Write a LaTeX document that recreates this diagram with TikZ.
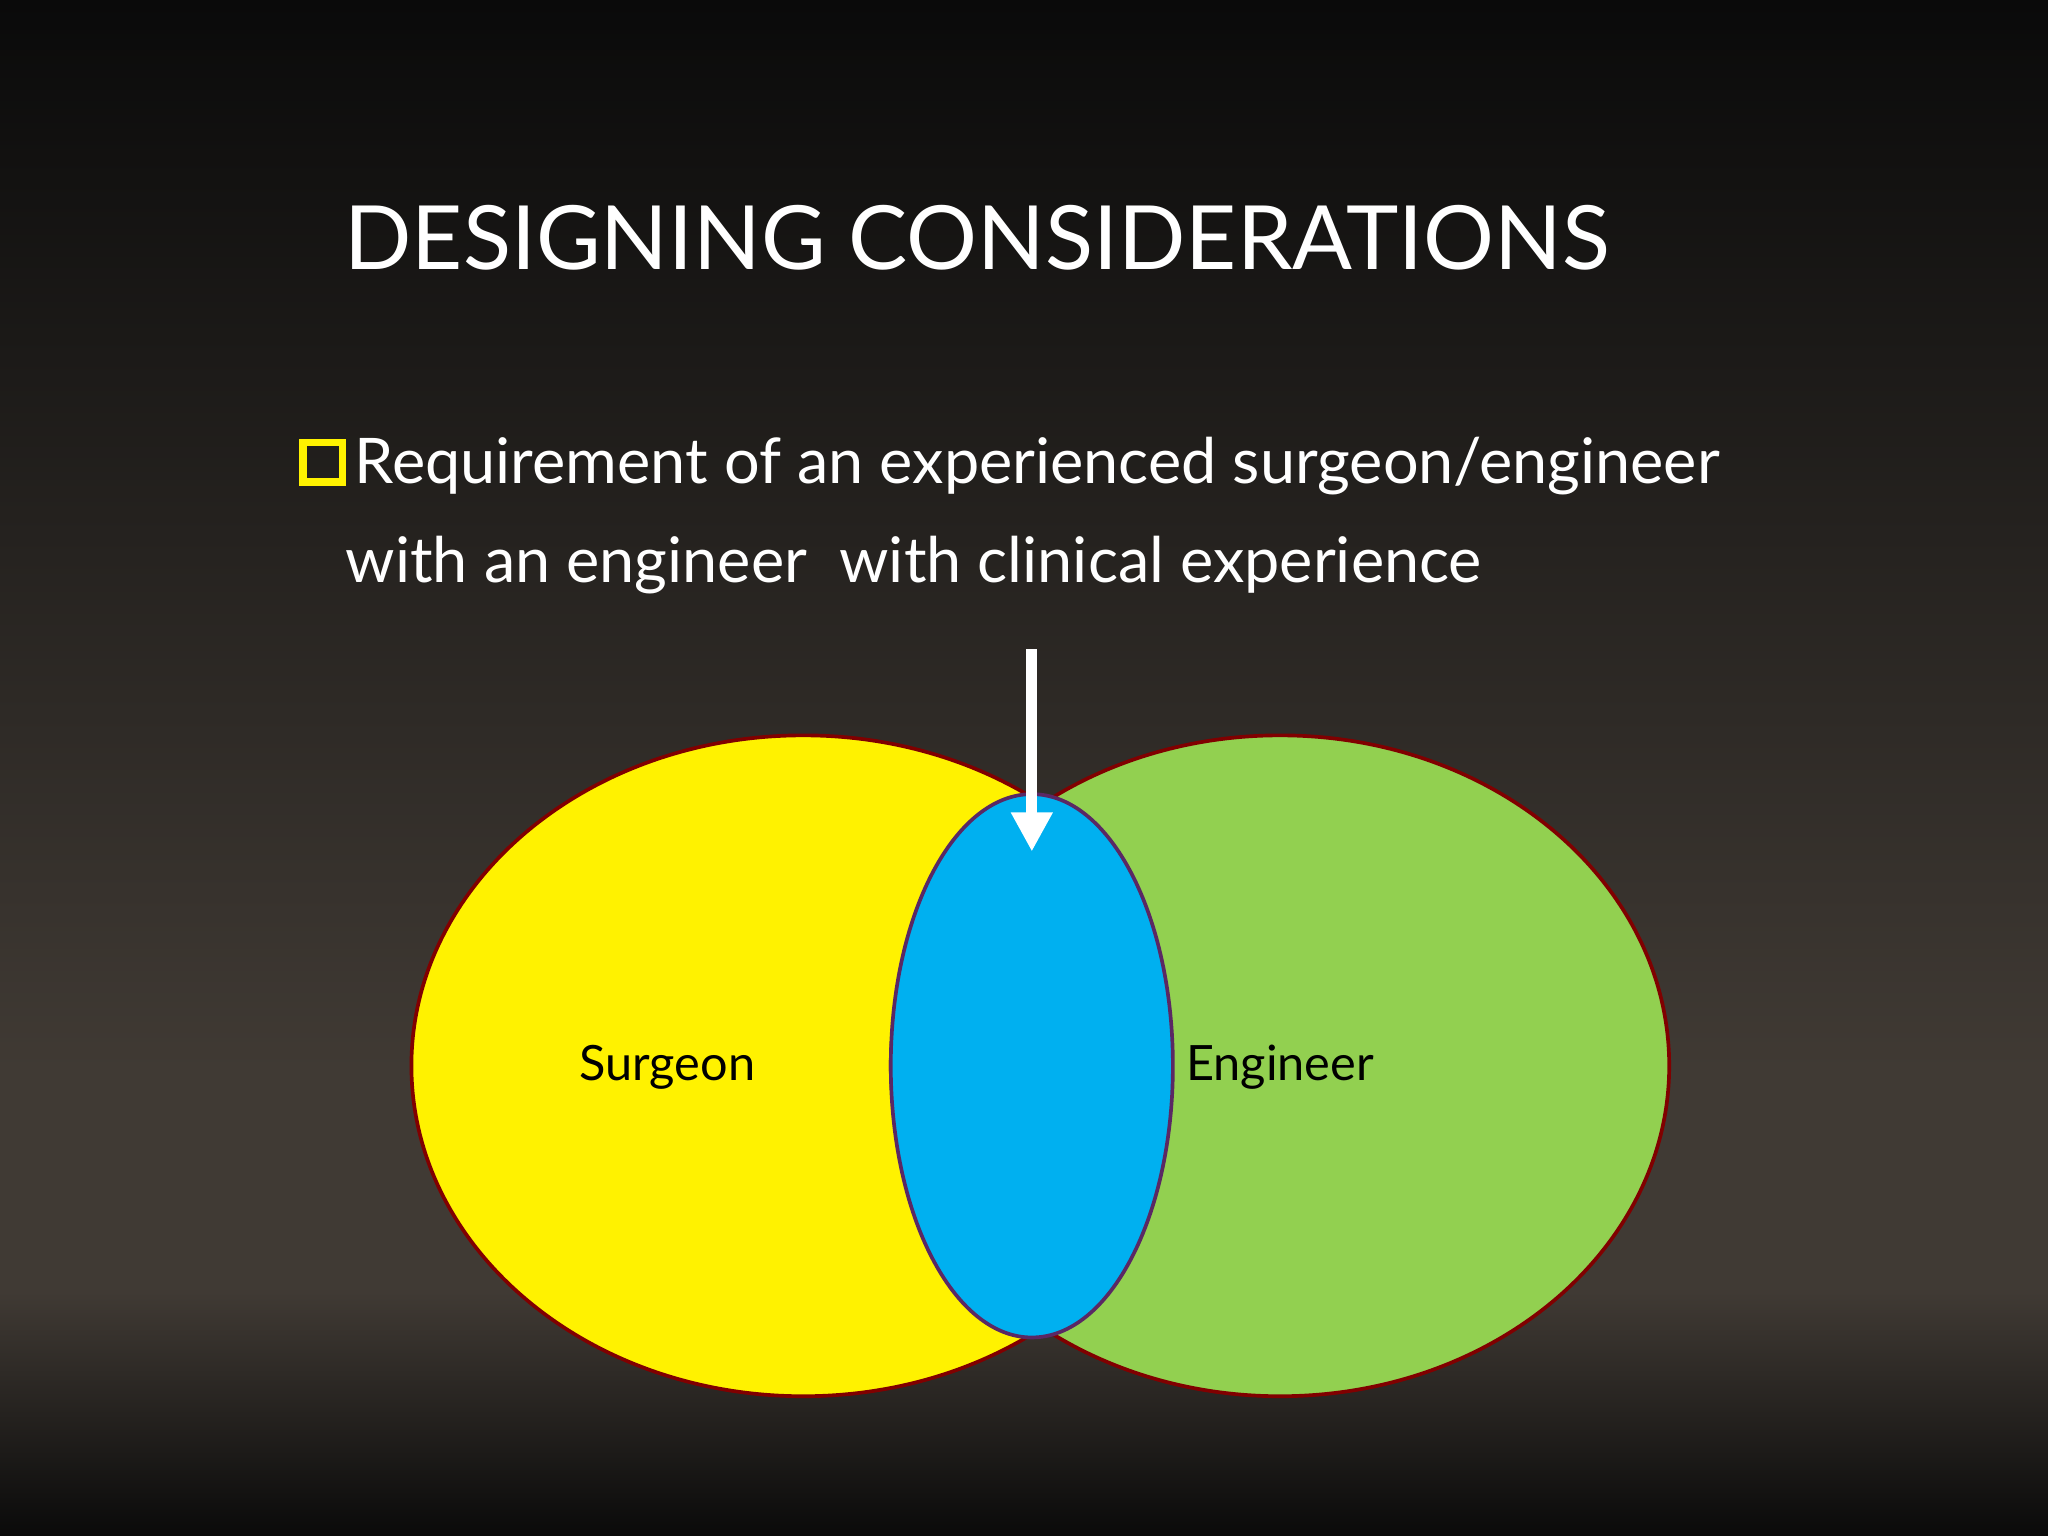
\documentclass[tikz,border=0pt]{standalone}
\usepackage{fontspec}
\setmainfont{Lato}
\usetikzlibrary{arrows.meta}
\definecolor{bgmid}{RGB}{64,58,52}
\definecolor{bgtop}{RGB}{10,10,10}
\begin{document}
\begin{tikzpicture}[x=0.01cm,y=-0.01cm,
  venn/.style={draw=red!50!black,line width=0.8pt},
  lbl/.style={text=black,font=\fontsize{10.6}{13}\selectfont,inner sep=0pt},
  body/.style={text=white,font=\fontsize{13.7}{16}\selectfont,anchor=west,inner sep=0pt}]
\useasboundingbox (0,0) rectangle (1568,1176);
\shade[top color=bgtop,bottom color=bgmid] (0,0) rectangle (1568,820);
\fill[bgmid] (0,819) rectangle (1568,990);
\shade[top color=bgmid,bottom color=bgtop] (0,989) rectangle (1568,1176);
\node[text=white,font=\fontsize{19.3}{24}\selectfont,anchor=west,inner sep=0pt] (title) at (263,182) {DESIGNING CONSIDERATIONS};
\node[draw=yellow,line width=1.6pt,minimum size=0.3cm,inner sep=0pt] (bul) at (247,354) {};
\node[body] (l1) at (271,357) {Requirement of an experienced surgeon/engineer};
\node[body] (l2) at (264,433) {with an engineer\ \ with clinical experience};
\fill[yellow] (615,816) ellipse [x radius=300,y radius=253];
\draw[venn] (615,816) ellipse [x radius=300,y radius=253];
\fill[fill={rgb,255:red,146;green,208;blue,80}] (980,816) ellipse [x radius=298,y radius=253];
\draw[venn] (980,816) ellipse [x radius=298,y radius=253];
\fill[fill={rgb,255:red,0;green,176;blue,240}] (790,816) ellipse [x radius=108,y radius=208];
\draw[venn,draw={rgb,255:red,90;green,40;blue,100}] (790,816) ellipse [x radius=108,y radius=208];
\coordinate (a1) at (790,497);
\coordinate (a2) at (790,652);
\draw[white,line width=2.4pt,-{Triangle[length=0.3cm,width=0.3cm]}] (a1) -- (a2);
\node[lbl] (s) at (511,817) {Surgeon};
\node[lbl] (e) at (980,817) {Engineer};
\end{tikzpicture}
\end{document}
